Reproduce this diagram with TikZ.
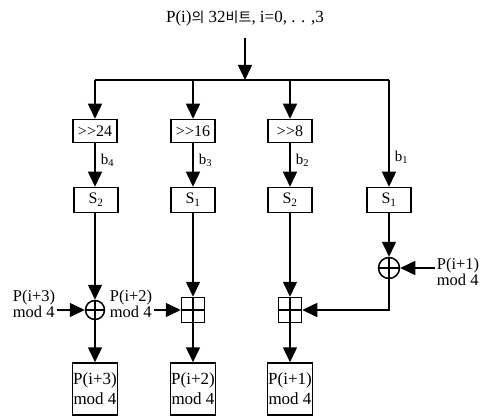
\documentclass[tikz,border=0pt]{standalone}
\usepackage{fontspec}
\setmainfont{Liberation Serif}
\newfontfamily\korfont{Noto Sans CJK KR}
\usetikzlibrary{arrows.meta}
\begin{document}
\begin{tikzpicture}[x=1pt,y=-1pt,line width=1.5pt,
  box/.style={draw, minimum width=44pt, minimum height=23pt, inner sep=1pt, font=\fontsize{16}{16}\selectfont},
  outbox/.style={draw, minimum width=45pt, minimum height=52pt, inner sep=0.5pt, align=center, font=\fontsize{17}{20}\selectfont},
  xorc/.style={draw, circle, minimum size=21pt, inner sep=0pt},
  addq/.style={draw, minimum width=23pt, minimum height=25pt, inner sep=0pt},
  arr/.style={-{Triangle[length=15pt,width=14pt]}},
  lbl/.style={align=left, inner sep=1pt, font=\fontsize{16.5}{14}\selectfont},
  blbl/.style={anchor=west, inner sep=1pt, font=\fontsize{15}{15}\selectfont}]
\useasboundingbox (0,0) rectangle (486,419);

% input word and fan-out
\node[font=\fontsize{17}{17}\selectfont] (title) at (245,18) {P(i){\korfont\fontsize{14}{14}\selectfont 의} 32{\korfont\fontsize{14}{14}\selectfont 비트}, i=0, . . ,3};
\coordinate (t0) at (245,38);\coordinate (t1) at (245,80);
\coordinate (h1) at (95,80);\coordinate (h4) at (389,80);
\draw[arr] (t0) -- (t1);
\draw (h1) -- (h4);

% shifts
\node[box] (r1) at (95,131) {{>}{>}24};
\node[box] (r2) at (193,131) {{>}{>}16};
\node[box] (r3) at (290,131) {{>}{>}8};

% s-boxes
\node[box,minimum height=25pt] (s1) at (96,200) {S\textsubscript{2}};
\node[box,minimum height=25pt] (s2) at (193,200) {S\textsubscript{1}};
\node[box,minimum height=25pt] (s3) at (290,200) {S\textsubscript{2}};
\node[box,minimum height=25pt] (s4) at (389,200) {S\textsubscript{1}};

\draw[arr] (h1) -- (r1.north);
\draw[arr] (r2 |- h1) -- (r2.north);
\draw[arr] (r3 |- h1) -- (r3.north);
\draw[arr] (h4) -- (s4.north);
\draw[arr] (r1.south) -- (r1.south |- s1.north);
\draw[arr] (r2.south) -- (s2.north);
\draw[arr] (r3.south) -- (s3.north);

\node[blbl] at (99,160) {b\textsubscript{4}};
\node[blbl] at (197,160) {b\textsubscript{3}};
\node[blbl] at (294,160) {b\textsubscript{2}};
\node[blbl] at (393,157) {b\textsubscript{1}};

% combiners
\node[xorc] (c4) at (389,268) {};
\node[xorc,minimum size=19pt] (c1) at (95,310) {};
\node[addq] (a2) at (193,310) {};
\node[addq] (a3) at (290,310) {};
\draw[line width=1.1pt] (c4.north) -- (c4.south) (c4.west) -- (c4.east);
\draw[line width=1.1pt] (c1.north) -- (c1.south) (c1.west) -- (c1.east);
\draw[line width=1.1pt] (a2.north) -- (a2.south) (a2.west) -- (a2.east);
\draw[line width=1.1pt] (a3.north) -- (a3.south) (a3.west) -- (a3.east);

\node[lbl] (p3) at (34,304) {P(i+3)\\mod 4};
\node[lbl] (p2) at (131,304) {P(i+2)\\mod 4};
\node[lbl] (p1) at (458,272) {P(i+1)\\mod 4};

\draw[arr] (s1.south -| c1) -- (c1.north);
\draw[arr] (s2.south) -- (a2.north);
\draw[arr] (s3.south) -- (a3.north);
\draw[arr] (s4.south) -- (c4.north);
\draw[arr] (p3.east |- c1) -- (c1.west);
\draw[arr] (p2.east |- a2) -- (a2.west);
\draw[arr] (p1.west |- c4) -- (c4.east);
\draw[arr] (c4.south) -- (c4 |- a3) -- (a3.east);

% outputs
\node[outbox] (o1) at (95,389) {P(i+3)\\mod 4};
\node[outbox] (o2) at (193,389) {P(i+2)\\mod 4};
\node[outbox] (o3) at (290,389) {P(i+1)\\mod 4};
\draw[arr] (c1.south) -- (o1.north);
\draw[arr] (a2.south) -- (o2.north);
\draw[arr] (a3.south) -- (o3.north);
\end{tikzpicture}
\end{document}
